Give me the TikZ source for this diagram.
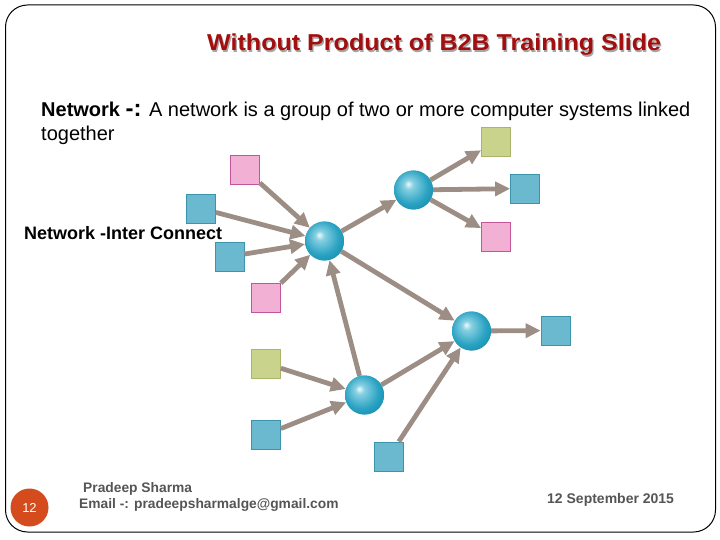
\documentclass[tikz,border=0pt]{standalone}
\usepackage{fontspec}
\setmainfont{Liberation Sans}
\usetikzlibrary{arrows.meta,shadings}
\definecolor{titlered}{HTML}{A30E0E}
\definecolor{arrowgray}{HTML}{9C8E84}
\definecolor{bluefill}{HTML}{6BB9CF}
\definecolor{blueline}{HTML}{3B93AC}
\definecolor{pinkfill}{HTML}{F2B1D4}
\definecolor{pinkline}{HTML}{C4559A}
\definecolor{greenfill}{HTML}{C9D38B}
\definecolor{greenline}{HTML}{A9B56A}
\definecolor{footgray}{HTML}{555555}
\definecolor{badge}{HTML}{D44B1D}
\definecolor{ballA}{HTML}{EEF9FB}
\definecolor{ballB}{HTML}{86D0E2}
\definecolor{ballC}{HTML}{2AA2C2}
\definecolor{ballD}{HTML}{0A7E9E}
\pgfdeclareradialshading{tealball}{\pgfpoint{-7bp}{8bp}}{%
  color(0bp)=(ballA); color(6bp)=(ballB); color(22bp)=(ballC);
  color(40bp)=(ballD); color(50bp)=(ballD)}
\tikzset{
  sq/.style={rectangle, minimum size=29pt, inner sep=0pt, line width=0.8pt},
  bluesq/.style={sq, fill=bluefill, draw=blueline},
  pinksq/.style={sq, fill=pinkfill, draw=pinkline},
  greensq/.style={sq, fill=greenfill, draw=greenline},
  sphere/.style={circle, minimum size=39pt, inner sep=0pt, shading=tealball},
  link/.style={draw=arrowgray, line width=4.8pt, -{Triangle[length=15pt,width=14pt]}},
}
\begin{document}
\begin{tikzpicture}[x=1pt,y=-1pt]
\useasboundingbox (0,0) rectangle (720,540);
% frame
\draw[line width=1pt, rounded corners=22pt] (5.5,5) rectangle (715.5,532);
% title
\node[anchor=base west, inner sep=0pt, text=black!35] (titleshadow) at (208.2,52.2)
  {\scalebox{1.09}[1]{\fontsize{23}{27}\selectfont\bfseries Without Product of B2B Training Slide}};
\node[anchor=base west, inner sep=0pt, text=titlered] (title) at (207,51)
  {\scalebox{1.09}[1]{\fontsize{23}{27}\selectfont\bfseries Without Product of B2B Training Slide}};
% body text
\node[anchor=base west, inner sep=0pt] (line1) at (41,117)
  {\fontsize{20}{24}\selectfont\textbf{Network} {\fontsize{24}{24}\selectfont\textbf{-:}} A network is a group of two or more computer systems linked};
\node[anchor=base west, inner sep=0pt] (line2) at (41,141)
  {\fontsize{20}{24}\selectfont together};
\node[anchor=base west, inner sep=0pt] (sub) at (24,240)
  {\fontsize{18}{22}\selectfont\bfseries Network -Inter Connect};
% spheres
\node[sphere] (s1) at (413.5,190) {};
\node[sphere] (s2) at (324.5,241) {};
\node[sphere] (s3) at (471.5,331) {};
\node[sphere] (s4) at (364.5,395) {};
% squares
\node[greensq] (g1) at (496,141.5) {};
\node[bluesq]  (b1) at (525,188.5) {};
\node[pinksq]  (p1) at (496,236.5) {};
\node[pinksq]  (p2) at (245,169.5) {};
\node[bluesq]  (b2) at (201,208.5) {};
\node[bluesq]  (b3) at (229.5,256.5) {};
\node[pinksq]  (p3) at (266,297.5) {};
\node[greensq] (g2) at (266,363.5) {};
\node[bluesq]  (b4) at (266,434.5) {};
\node[bluesq]  (b5) at (389,456.5) {};
\node[bluesq]  (b6) at (555.5,330.5) {};
% links
\draw[link] (p2) -- (s2);
\draw[link] (b2) -- (s2);
\draw[link] (b3) -- (s2);
\draw[link] (p3) -- (s2);
\draw[link] (s2) -- (s1);
\draw[link] (s1) -- (g1);
\draw[link] (s1) -- (b1);
\draw[link] (s1) -- (p1);
\draw[link] (s2) -- (s3);
\draw[link] (s4) -- (s2);
\draw[link] (g2) -- (s4);
\draw[link] (b4) -- (s4);
\draw[link] (s4) -- (s3);
\draw[link] (b5) -- (s3);
\draw[link] (s3) -- (b6);
% redraw spheres on top
\node[sphere] at (s1) {};
\node[sphere] at (s2) {};
\node[sphere] at (s3) {};
\node[sphere] at (s4) {};
% footer
\node[circle, fill=badge, minimum size=38pt, inner sep=0pt, text=white] (badgenum) at (29.5,507.5)
  {\fontsize{13}{15}\selectfont 12};
\node[anchor=base west, inner sep=0pt, text=footgray] (author) at (83,492)
  {\fontsize{13.8}{16}\selectfont\bfseries Pradeep Sharma};
\node[anchor=base west, inner sep=0pt, text=footgray] (email) at (79,508)
  {\fontsize{13.8}{16}\selectfont\bfseries Email -: pradeepsharmalge@gmail.com};
\node[anchor=base west, inner sep=0pt, text=footgray] (date) at (547,503)
  {\fontsize{14}{16}\selectfont\bfseries 12 September 2015};
\end{tikzpicture}
\end{document}
